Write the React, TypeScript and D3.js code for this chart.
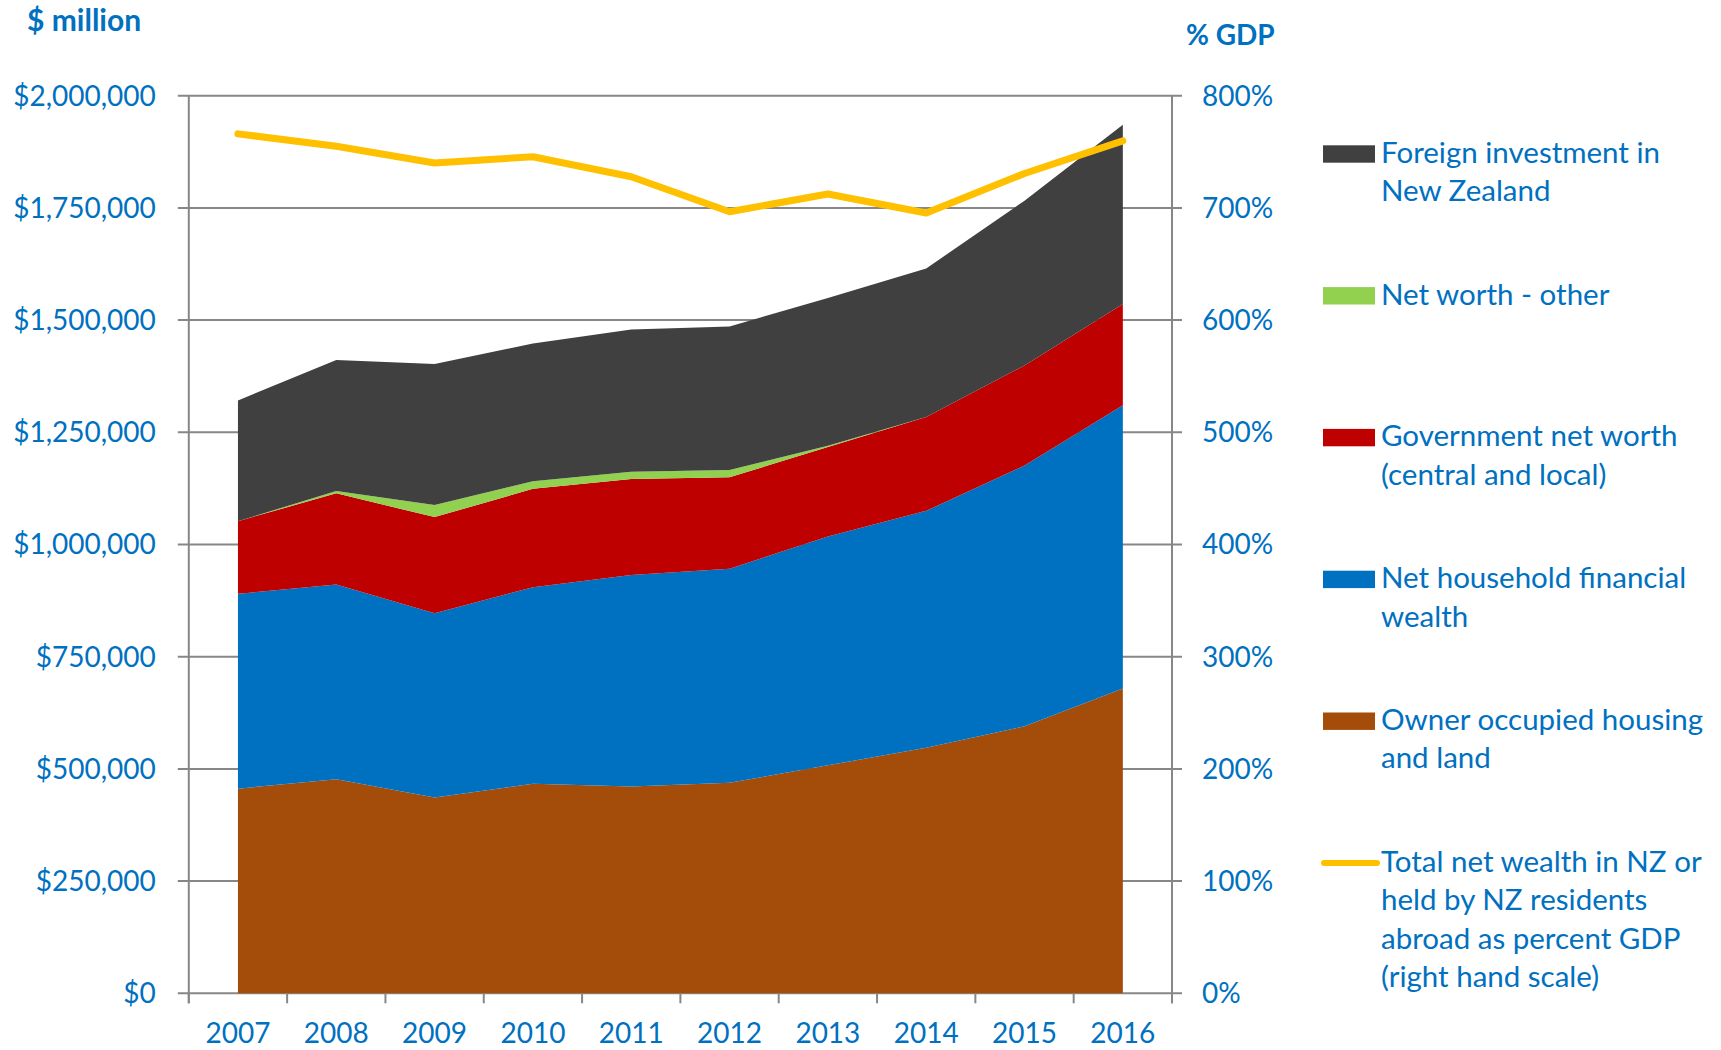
import React, { useEffect, useRef } from "react";
import * as d3 from "d3";

// years on the x axis
const years = ["2007", "2008", "2009", "2010", "2011", "2012", "2013", "2014", "2015", "2016"];

// $ million
const housing = [456000, 477000, 436000, 467000, 461000, 469000, 508000, 547000, 595000, 679000];
const financial = [434000, 434000, 411000, 438000, 471000, 477000, 510000, 528000, 581000, 631000];
const government = [162000, 203000, 214000, 219000, 214000, 204000, 199000, 209000, 223000, 226000];
const otherWorth = [0, 5000, 27000, 17000, 16000, 16000, 3000, 0, 0, 0];
const foreign = [269000, 292000, 314000, 307000, 317000, 320000, 329000, 331000, 367000, 399000];

// % of GDP, right hand scale
const pctGdp = [766, 755, 740, 745.6, 727.8, 696.6, 712.4, 695.5, 730.7, 759.8];

const leftTicks = [0, 250000, 500000, 750000, 1000000, 1250000, 1500000, 1750000, 2000000];
const rightTicks = [0, 100, 200, 300, 400, 500, 600, 700, 800];

const seriesKeys = ["housing", "financial", "government", "other", "foreign"];
const seriesColors = {
  housing: "#A44D0A",
  financial: "#0070C0",
  government: "#BE0000",
  other: "#92D050",
  foreign: "#404040",
};

const legendItems = [
  { key: "foreign", lines: ["Foreign investment in", "New Zealand"] },
  { key: "other", lines: ["Net worth - other"] },
  { key: "government", lines: ["Government net worth", "(central and local)"] },
  { key: "financial", lines: ["Net household financial", "wealth"] },
  { key: "housing", lines: ["Owner occupied housing", "and land"] },
  { key: "line", lines: ["Total net wealth in NZ or", "held by NZ residents", "abroad as percent GDP", "(right hand scale)"] },
];

const App = () => {
  const ref = useRef<SVGSVGElement>(null);

  useEffect(() => {
    makeGraph();
  }, []);

  const makeGraph = () => {
    const width = 1721;
    const height = 1050;
    const margin = { top: 95.7, left: 188.8, bottom: 56.7, right: 549 };
    const blue = "#0070C0";
    const grid = "#878787";
    const font = "Lato, 'Noto Sans', sans-serif";

    const svg = d3.select(ref.current).attr("width", width).attr("height", height);
    svg.selectAll("*").remove();

    const data = years.map((yr, i) => ({
      year: yr,
      housing: housing[i],
      financial: financial[i],
      government: government[i],
      other: otherWorth[i],
      foreign: foreign[i],
      pct: pctGdp[i],
    }));

    const x = d3
      .scaleBand()
      .domain(years)
      .range([margin.left, width - margin.right]);

    const y = d3
      .scaleLinear()
      .domain([0, 2000000])
      .range([height - margin.bottom, margin.top]);

    const y1 = d3
      .scaleLinear()
      .domain([0, 800])
      .range([height - margin.bottom, margin.top]);

    const x0 = margin.left;
    const x1 = width - margin.right;

    // gridlines (span from left tick to right tick)
    svg
      .append("g")
      .selectAll("line")
      .data(leftTicks)
      .enter()
      .append("line")
      .attr("x1", x0 - 11)
      .attr("x2", x1 + 10)
      .attr("y1", (d) => y(d))
      .attr("y2", (d) => y(d))
      .attr("stroke", grid)
      .attr("stroke-width", 2);

    // stacked areas
    const stack = d3.stack<any>().keys(seriesKeys);
    const layers = stack(data);

    const area = d3
      .area<any>()
      .x((d) => x(d.data.year)! + x.bandwidth() / 2)
      .y0((d) => y(d[0]))
      .y1((d) => y(d[1]));

    svg
      .append("g")
      .selectAll("path")
      .data(layers)
      .enter()
      .append("path")
      .attr("fill", (d) => (seriesColors as any)[d.key])
      .attr("d", area);

    // axes lines
    [x0, x1].forEach((xx) => {
      svg
        .append("line")
        .attr("x1", xx)
        .attr("x2", xx)
        .attr("y1", y(2000000))
        .attr("y2", y(0) + 10)
        .attr("stroke", grid)
        .attr("stroke-width", 2);
    });

    // x axis labels
    svg
      .append("g")
      .selectAll("text")
      .data(years)
      .enter()
      .append("text")
      .attr("x", (d) => x(d)! + x.bandwidth() / 2)
      .attr("y", 1043)
      .attr("text-anchor", "middle")
      .attr("font-size", "28px")
      .attr("font-family", font)
      .attr("fill", blue)
      .text((d) => d);

    // x tick marks on band edges
    const edges = years.map((d) => x(d)!).concat([x1]);
    svg
      .append("g")
      .selectAll("line")
      .data(edges)
      .enter()
      .append("line")
      .attr("x1", (d) => d)
      .attr("x2", (d) => d)
      .attr("y1", y(0))
      .attr("y2", y(0) + 10)
      .attr("stroke", grid)
      .attr("stroke-width", 2);

    // left y labels
    const fmt = d3.format(",");
    svg
      .append("g")
      .selectAll("text")
      .data(leftTicks)
      .enter()
      .append("text")
      .attr("x", x0 - 33)
      .attr("y", (d) => y(d))
      .attr("dy", "0.35em")
      .attr("text-anchor", "end")
      .attr("font-size", "28px")
      .attr("font-family", font)
      .attr("fill", blue)
      .text((d) => "$" + fmt(d));

    // right y labels
    svg
      .append("g")
      .selectAll("text")
      .data(rightTicks)
      .enter()
      .append("text")
      .attr("x", x1 + 30)
      .attr("y", (d) => y1(d))
      .attr("dy", "0.35em")
      .attr("text-anchor", "start")
      .attr("font-size", "28px")
      .attr("font-family", font)
      .attr("fill", blue)
      .text((d) => d + "%");

    // axis titles
    svg
      .append("text")
      .attr("x", 27)
      .attr("y", 31)
      .attr("font-size", "30px")
      .attr("font-weight", "bold")
      .attr("font-family", font)
      .attr("fill", blue)
      .text("$ million");
    svg
      .append("text")
      .attr("x", 1186)
      .attr("y", 45)
      .attr("font-size", "28px")
      .attr("font-weight", "bold")
      .attr("font-family", font)
      .attr("fill", blue)
      .text("% GDP");

    // % GDP line
    const line = d3
      .line<any>()
      .x((d) => x(d.year)! + x.bandwidth() / 2)
      .y((d) => y1(d.pct));

    svg
      .append("path")
      .datum(data)
      .attr("fill", "none")
      .attr("stroke", "#FFC000")
      .attr("stroke-width", 7)
      .attr("stroke-linejoin", "round")
      .attr("stroke-linecap", "round")
      .attr("d", line);

    // legend
    const legend = svg
      .append("g")
      .selectAll("g")
      .data(legendItems)
      .enter()
      .append("g")
      .attr("transform", (d, i) => `translate(1323, ${154 + i * 141.8})`);

    legend
      .filter((d) => d.key !== "line")
      .append("rect")
      .attr("x", 0)
      .attr("y", -8.7)
      .attr("width", 52)
      .attr("height", 17.4)
      .attr("fill", (d) => (seriesColors as any)[d.key]);

    legend
      .filter((d) => d.key === "line")
      .append("line")
      .attr("x1", 1)
      .attr("x2", 54)
      .attr("y1", 0)
      .attr("y2", 0)
      .attr("stroke", "#FFC000")
      .attr("stroke-width", 6)
      .attr("stroke-linecap", "round");

    legend
      .append("text")
      .attr("font-size", "29.5px")
      .attr("font-family", font)
      .attr("fill", blue)
      .selectAll("tspan")
      .data((d) => d.lines)
      .enter()
      .append("tspan")
      .attr("x", 58)
      .attr("y", (d, i) => 8.7 + i * 38.5)
      .text((d) => d);
  };

  return (
    <svg ref={ref} style={{ position: "absolute", left: 0, top: 0 }}></svg>
  );
};

export default App;
